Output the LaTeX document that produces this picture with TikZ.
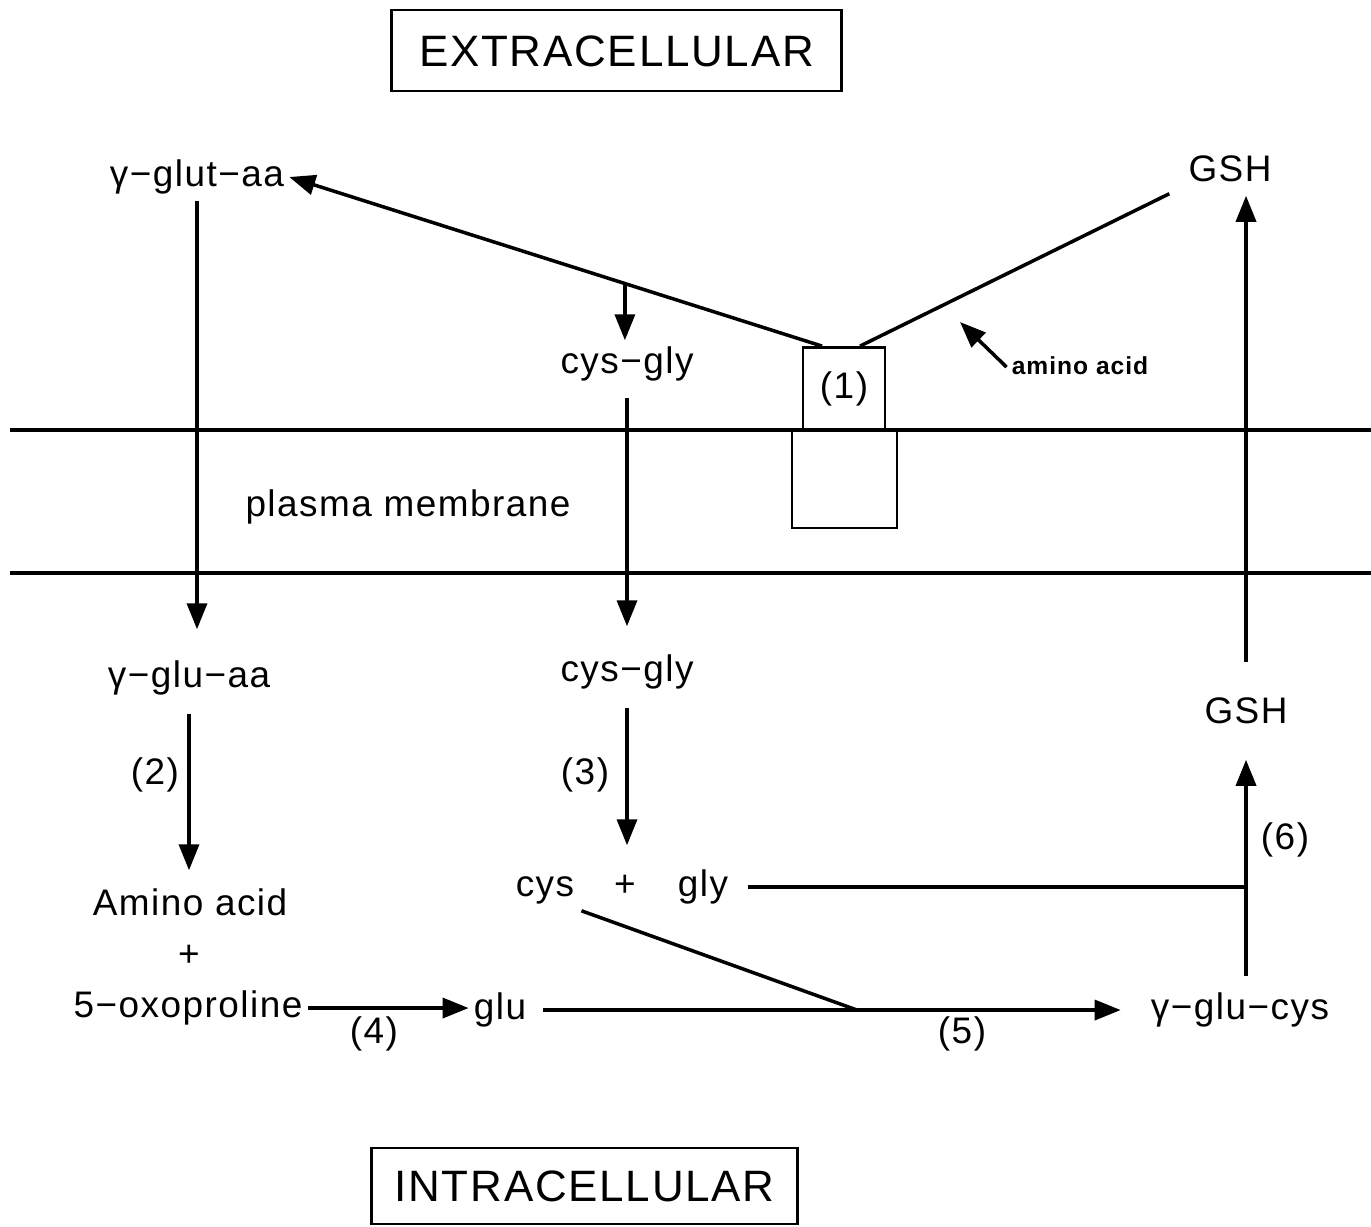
\documentclass[tikz,border=0pt]{standalone}
\usepackage{fontspec}
\setmainfont{Liberation Sans}[LetterSpace=4]
\usetikzlibrary{arrows.meta}

\begin{document}
\begin{tikzpicture}[x=0.01cm, y=-0.01cm, line width=1pt,
  every node/.style={font=\fontsize{10.5}{12}\selectfont, inner sep=1pt, text height=8pt, text depth=2.5pt},
  arr/.style={-{Triangle[length=2.6mm,width=2mm]}},
  title/.style={draw, line width=0.8pt, font=\fontsize{12.5}{15}\selectfont, inner sep=0pt, text height=9pt, text depth=0pt}]
\useasboundingbox (0,0) rectangle (1371,1226);
% compartments
\node[title,minimum width=4.49cm,minimum height=0.81cm] (extra) at (616.5,50.5) {EXTRACELLULAR};
\node[title,minimum width=4.25cm,minimum height=0.76cm] (intra) at (584.5,1186) {INTRACELLULAR};
\draw (10,430) -- (1371,430);
\draw (10,573) -- (1371,573);
\node (membrane) at (408,507) {plasma membrane};
\node[draw,line width=0.8pt,minimum width=0.82cm,minimum height=0.82cm] (enz) at (844,388.5) {(1)};
\node[draw,line width=0.8pt,minimum width=1.05cm,minimum height=0.98cm] (enzlow) at (844.5,479) {};
% outside
\node (gglutaa) at (197,177) {γ−glut−aa};
\node (gshout) at (1230,172) {GSH};
\node (cysglyout) at (627,364) {cys−gly};
\node[font=\fontsize{7}{8}\selectfont\bfseries, text height=5.5pt, text depth=1.5pt] (aalabel) at (1080,367) {amino acid};
\coordinate (jl) at ([xshift=-0.22cm]enz.north);
\coordinate (jr) at ([xshift=0.16cm]enz.north);
\coordinate (aatip) at (960,322);
% inside
\node (gluaa) at (189,678) {γ−glu−aa};
\node (cysglyin) at (627,672) {cys−gly};
\node (amino) at (190,906) {Amino acid};
\node (plusaa) at (189,957) {+};
\node (oxo) at (188,1008) {5−oxoproline};
\node (cys) at (545,887) {cys};
\node (cysplus) at (625,887) {+};
\node (gly) at (703,887) {gly};
\node (glu) at (500,1010) {glu};
\node (gglucys) at (1240,1010) {γ−glu−cys};
\node (gshin) at (1246,714) {GSH};
\node (r2) at (155,775) {(2)};
\node (r3) at (585,775) {(3)};
\node (r4) at (374,1034) {(4)};
\node (r5) at (962,1034) {(5)};
\node (r6) at (1285,840) {(6)};
% connectors
\draw ([xshift=-0.14cm,yshift=0.02cm]gshout.south west) -- (jr);
\draw[arr] (jl) -- coordinate[pos=0.37] (drop) (gglutaa.east);
\draw[arr] (drop) -- (drop |- cysglyout.north);
\draw[arr] (aalabel.west) -- (aatip);
\draw[arr,shorten >=0.25cm] (gglutaa.south) -- (gglutaa.south |- gluaa.north);
\draw[arr,shorten <=0.1cm,shorten >=0.22cm] (cysglyout.south) -- (cysglyout.south |- cysglyin.north);
\draw[arr,shorten <=0.12cm,shorten >=0.12cm] (gluaa.south) -- (gluaa.south |- amino.north);
\draw[arr,shorten <=0.12cm,shorten >=0.18cm] (cysglyin.south) -- (cysglyin.south |- cysplus.north);
\draw[arr] (oxo.east) -- (oxo.east -| glu.west);
\draw[arr,shorten <=0.12cm,shorten >=0.25cm] (glu.east) -- coordinate[pos=0.53] (join) (glu.east -| gglucys.west);
\draw ([xshift=0.02cm]cys.south east) -- (join);
\draw[shorten <=0.15cm] (gly.east) -- (gly.east -| gshin);
\draw[arr,shorten <=0.1cm,shorten >=0.22cm] (gglucys.north -| gshin) -- (gshin.south);
\draw[arr,shorten <=0.28cm] (gshin.north) -- (gshin.north |- gshout.south);
\end{tikzpicture}
\end{document}
